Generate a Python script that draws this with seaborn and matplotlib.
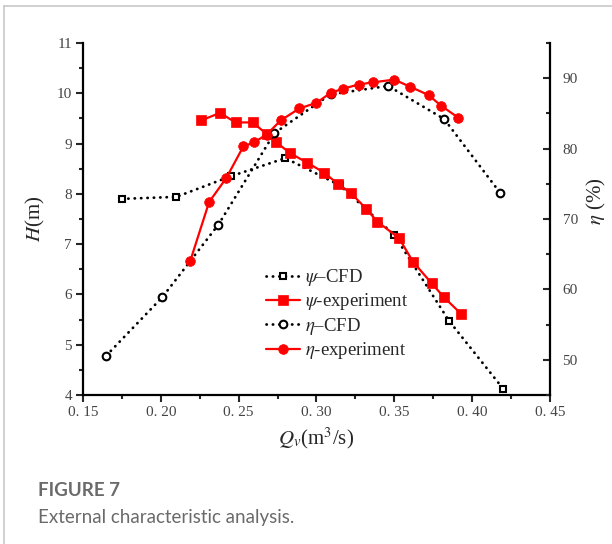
import matplotlib
matplotlib.use("Agg")
import matplotlib.pyplot as plt
from matplotlib.lines import Line2D
from matplotlib.ticker import MultipleLocator, FixedLocator
import seaborn as sns

# flow rate Qv (m3/s) and head H (m)
q_psi_cfd = [0.175, 0.210, 0.245, 0.280, 0.315, 0.350, 0.385, 0.420]
h_psi_cfd = [7.90, 7.94, 8.35, 8.71, 8.17, 7.18, 5.48, 4.12]

q_psi_exp = [0.226, 0.238, 0.248, 0.259, 0.268, 0.274, 0.283, 0.294, 0.305,
             0.314, 0.322, 0.332, 0.339, 0.353, 0.362, 0.374, 0.382, 0.393]
h_psi_exp = [9.46, 9.61, 9.42, 9.42, 9.19, 9.03, 8.81, 8.62, 8.42,
             8.19, 8.02, 7.70, 7.45, 7.12, 6.65, 6.22, 5.94, 5.61]

# efficiency eta (%)
q_eta_cfd = [0.165, 0.201, 0.237, 0.273, 0.309, 0.346, 0.382, 0.418]
e_eta_cfd = [50.6, 58.9, 69.2, 82.2, 87.7, 88.9, 84.2, 73.7]

q_eta_exp = [0.219, 0.231, 0.242, 0.253, 0.260, 0.268, 0.277, 0.289, 0.300,
             0.309, 0.317, 0.327, 0.336, 0.350, 0.360, 0.372, 0.380, 0.391]
e_eta_exp = [64.1, 72.4, 75.8, 80.3, 80.9, 82.0, 84.0, 85.7, 86.5,
             87.9, 88.5, 89.1, 89.4, 89.8, 88.8, 87.6, 86.1, 84.4]

x_ticks = [0.15, 0.20, 0.25, 0.30, 0.35, 0.40, 0.45]
x_ticklabels = ["0. 15", "0. 20", "0. 25", "0. 30", "0. 35", "0. 40", "0. 45"]

sns.set_style("ticks")
plt.rcParams["font.family"] = ["Liberation Serif", "DejaVu Serif"]
plt.rcParams["mathtext.fontset"] = "stix"

fig = plt.figure(figsize=(6.12, 5.44), dpi=100)
ax = fig.add_axes([0.1356, 0.2739, 0.7631, 0.6471])
ax2 = ax.twinx()

dots = (0, (0.1, 2.2))
red = "#ff0000"

sns.lineplot(x=q_psi_cfd, y=h_psi_cfd, ax=ax, sort=False, estimator=None,
             color="black", lw=2, linestyle=dots, dash_capstyle="round",
             marker="s", markersize=5, markerfacecolor="white",
             markeredgecolor="black", markeredgewidth=1.5, label=r"$\psi$–CFD")
sns.lineplot(x=q_psi_exp, y=h_psi_exp, ax=ax, sort=False, estimator=None,
             color=red, lw=1.6, marker="s", markersize=6.5,
             markerfacecolor=red, markeredgecolor=red, markeredgewidth=0.5,
             label=r"$\psi$-experiment")
sns.lineplot(x=q_eta_cfd, y=e_eta_cfd, ax=ax2, sort=False, estimator=None,
             color="black", lw=2, linestyle=dots, dash_capstyle="round",
             marker="o", markersize=5.5, markerfacecolor="white",
             markeredgecolor="black", markeredgewidth=1.5, label=r"$\eta$–CFD")
sns.lineplot(x=q_eta_exp, y=e_eta_exp, ax=ax2, sort=False, estimator=None,
             color=red, lw=1.6, marker="o", markersize=7,
             markerfacecolor=red, markeredgecolor=red, markeredgewidth=0.5,
             label=r"$\eta$-experiment")

ax.set_xlim(0.15, 0.45)
ax.set_ylim(4, 11)
ax2.set_ylim(45, 95)

ax.xaxis.set_major_locator(FixedLocator(x_ticks))
ax.set_xticklabels(x_ticklabels)
ax.xaxis.set_minor_locator(MultipleLocator(0.025))
ax.yaxis.set_major_locator(MultipleLocator(1))
ax.yaxis.set_minor_locator(MultipleLocator(0.5))
ax2.yaxis.set_major_locator(MultipleLocator(10))
ax2.yaxis.set_minor_locator(MultipleLocator(5))

for a in (ax, ax2):
    a.spines["top"].set_visible(False)
    for s in ("left", "bottom", "right"):
        a.spines[s].set_linewidth(1.6)
        a.spines[s].set_color("black")
ax.spines["right"].set_visible(False)
ax2.spines["left"].set_visible(False)
ax2.spines["bottom"].set_visible(False)

ax.tick_params(which="major", direction="out", length=5, width=1.5,
               labelsize=11, labelcolor="#444444", pad=3)
ax.tick_params(which="minor", direction="out", length=3, width=1.5)
ax2.tick_params(which="major", direction="in", length=5, width=1.5,
                labelsize=11, labelcolor="#444444", pad=9)
ax2.tick_params(which="minor", direction="in", length=3, width=1.5)

ax.set_xlabel(r"$Q_v$(m$^3$/s)", fontsize=15, labelpad=5)
ax.set_ylabel(r"$H$(m)", fontsize=15, labelpad=7)
ax2.set_ylabel(r"$\eta$ (%)", fontsize=15)
ax2.yaxis.set_label_coords(1.074, 0.55)

for a in (ax, ax2):
    if a.get_legend():
        a.get_legend().remove()
handles = ax.get_lines()[:2] + ax2.get_lines()[:2]
labels = [h.get_label() for h in handles]
ax2.legend(handles, labels, loc="upper left", bbox_to_anchor=(0.372, 0.39),
           frameon=False, fontsize=13.5, handlelength=1.8, handletextpad=0.3,
           labelspacing=0.18, borderpad=0)

# caption and page border
fig.add_artist(Line2D([0.006, 0.006], [0.0, 0.989], color="#c8c8c8", lw=1.2))
fig.add_artist(Line2D([0.006, 1.0], [0.989, 0.989], color="#c8c8c8", lw=1.2))
fig.text(0.062, 0.088, "FIGURE 7", fontsize=13.5, fontweight="bold",
         color="#6a6a6a", family=["Lato", "DejaVu Sans"])
fig.text(0.062, 0.039, "External characteristic analysis.", fontsize=13.5,
         color="#6a6a6a", family=["Lato", "DejaVu Sans"])

fig.savefig("out.png", dpi=100)
